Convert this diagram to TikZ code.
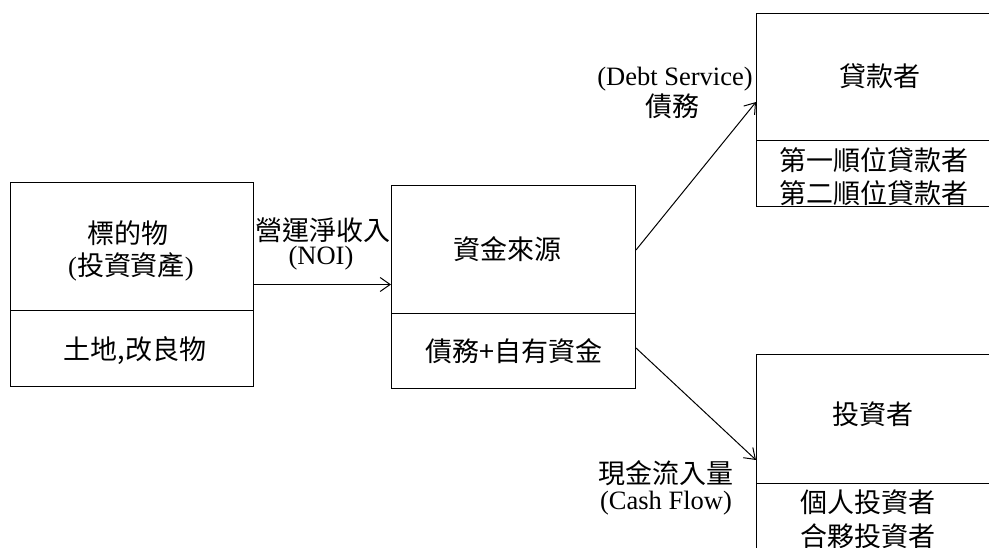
\documentclass[tikz,border=0pt]{standalone}
\usepackage{fontspec}
\setmainfont{Liberation Serif}
\newfontfamily\cjkfont{Noto Sans CJK TC}
\newcommand{\cjk}{\fontsize{27}{30}\selectfont\cjkfont}
\usetikzlibrary{arrows.meta,calc}
\tikzset{
  box/.style={draw, line width=1pt, inner sep=0pt, anchor=north west},
  txt/.style={inner sep=0pt, font=\fontsize{26.5}{29}\selectfont},
  conn/.style={line width=1pt, -{Straight Barb[length=10pt,width=14pt,line width=1pt]}},
  divider/.style={line width=1pt}
}
\begin{document}
\begin{tikzpicture}[x=1pt,y=-1pt]
\useasboundingbox (0,0) rectangle (989,548);
\fill[white] (0,0) rectangle (989,548);
\begin{scope}
\clip (0,0) rectangle (989,548);
% boxes
\node[box, minimum width=243pt, minimum height=204pt] (b1) at (10,182) {};
\node[box, minimum width=244pt, minimum height=203pt] (b2) at (391,185) {};
\node[box, minimum width=260pt, minimum height=193pt] (b3) at (756,13) {};
\node[box, minimum width=260pt, minimum height=220pt] (b4) at (756,354) {};
\draw[divider] ($(b1.north west)+(0,129)$) -- ($(b1.north east)+(0,129)$);
\draw[divider] ($(b2.north west)+(0,129)$) -- ($(b2.north east)+(0,129)$);
\draw[divider] ($(b3.north west)+(0,128)$) -- ($(b3.north east)+(0,128)$);
\draw[divider] ($(b4.north west)+(0,129)$) -- ($(b4.north east)+(0,129)$);
% box texts
\node[txt] (t1a) at (128,233) {\cjk 標的物};
\node[txt] (t1b) at (131,267) {(\cjk 投資資產\rmfamily\fontsize{26.5}{29}\selectfont)};
\node[txt] (t1c) at (135,351) {\cjk 土地,改良物};
\node[txt] (t2a) at (507,249) {\cjk 資金來源};
\node[txt] (t2b) at (514,351) {\cjk 債務+自有資金};
\node[txt] (t3a) at (880,76) {\cjk 貸款者};
\node[txt] (t3b) at (874,160) {\cjk 第一順位貸款者};
\node[txt] (t3c) at (874,193) {\cjk 第二順位貸款者};
\node[txt] (t4a) at (873,414) {\cjk 投資者};
\node[txt] (t4b) at (868,502) {\cjk 個人投資者};
\node[txt] (t4c) at (868,536) {\cjk 合夥投資者};
% connector labels
\node[txt] (l1a) at (323,230) {\cjk 營運淨收入};
\node[txt] (l1b) at (321,258) {(NOI)};
\node[txt] (l2a) at (675,79) {(Debt Service)};
\node[txt] (l2b) at (672,106) {\cjk 債務};
\node[txt] (l3a) at (666,473) {\cjk 現金流入量};
\node[txt] (l3b) at (666,503) {(Cash Flow)};
% connectors
\draw[conn] (b1.east) -- (b1.east -| b2.west);
\draw[conn] ($(b2.north east)+(0,65)$) -- ($(b3.north west)+(0,89)$);
\draw[conn] ($(b2.south east)+(0,-41)$) -- ($(b4.north west)+(0,106)$);
\end{scope}
\end{tikzpicture}
\end{document}
